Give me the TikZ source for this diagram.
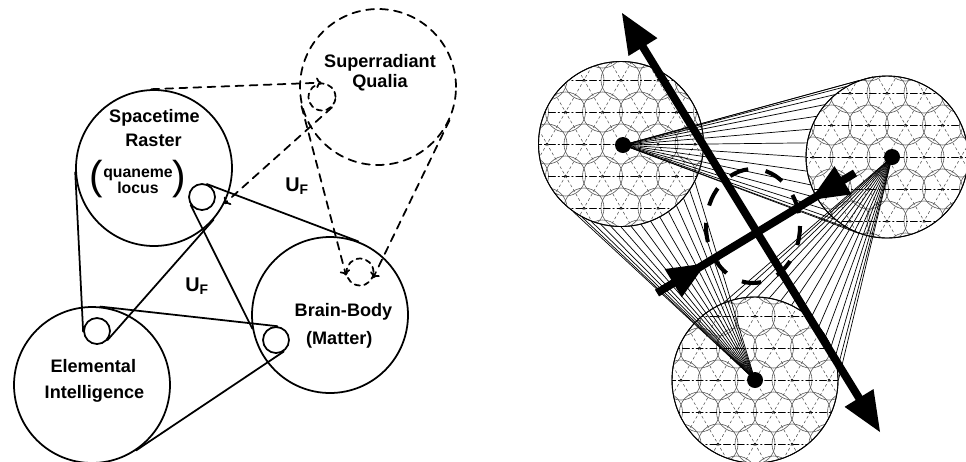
\documentclass[tikz,border=0pt]{standalone}
\usepackage{fontspec}
\setmainfont{Liberation Sans}
\usetikzlibrary{calc,arrows.meta}

\tikzset{
  ring/.style={circle, draw, line width=1pt, inner sep=0pt, minimum size=3.12cm},
  dring/.style={ring, dash pattern=on 4.5pt off 3.5pt},
  pulley/.style={circle, draw, line width=1pt, inner sep=0pt, minimum size=0.52cm},
  dpulley/.style={pulley, minimum size=0.54cm, dash pattern=on 3pt off 2.5pt},
  belt/.style={line width=1pt},
  dbelt/.style={line width=1pt, dash pattern=on 4.5pt off 3.5pt, -{To[length=3pt,width=6pt]}},
  lab/.style={font=\fontsize{10.3}{12}\selectfont\bfseries, anchor=base, inner sep=0pt},
  labs/.style={lab, font=\fontsize{9}{11}\selectfont\bfseries},
  paren/.style={font=\fontsize{23}{23}\selectfont, inner sep=0pt},
  uf/.style={font=\fontsize{11.3}{13}\selectfont\bfseries, anchor=base west, inner sep=0pt},
  hexring/.style={circle, draw, line width=0.5pt, inner sep=0pt, minimum size=#1},
  bigdot/.style={circle, fill, inner sep=0pt, minimum size=0.32cm},
  cellc/.style={black!65, line width=0.35pt},
  fan/.style={line width=0.4pt},
  shaft/.style={line width=4.5pt, line cap=butt},
}

% hexagonal raster inside a ring: node, radius
\newcommand\hexfill[2]{%
  \begin{scope}
    \clip (#1.center) circle (#2);
    \foreach \k in {-3,...,3}{
      \foreach \m in {-4,...,4}{
        \draw[cellc] ($(#1.center)+(37*\m+18.5*\k,32*\k)$) circle (20);
        \fill ($(#1.center)+(37*\m+18.5*\k,32*\k)$) circle (1.3);
      }
    }
    \foreach \k in {-3,...,3}{
      \draw[line width=0.35pt, dash pattern=on 4pt off 1.5pt on 0.8pt off 1.5pt]
        ($(#1.center)+(-100,32*\k)$) -- ++(200,0);
    }
    \foreach \m in {-6,...,6}{
      \draw[black!70, line width=0.3pt, dash pattern=on 1.5pt off 1.5pt]
        ($(#1.center)+(37*\m-111,-192)$) -- ++(222,384);
      \draw[black!70, line width=0.3pt, dash pattern=on 1.5pt off 1.5pt]
        ($(#1.center)+(37*\m+111,-192)$) -- ++(-222,384);
    }
  \end{scope}}

\begin{document}
\begin{tikzpicture}[x=0.02cm, y=-0.02cm, line cap=round]
\useasboundingbox (0,0) rectangle (966,461);

% rings
\node[ring] (st) at (154,168) {};
\node[ring] (ei) at (92,385) {};
\node[ring] (bb) at (330,315) {};
\node[dring] (sq) at (378,87) {};
% pulleys
\node[pulley] (p1) at (202,197) {};
\node[pulley] (p2) at (97,331) {};
\node[pulley] (p3) at (276,340) {};
\node[dpulley] (p4) at (322,97) {};
\node[dpulley] (p5) at (360,272) {};

% belts
\draw[belt] (st.183) -- (p2.183);
\draw[belt] (p2.-41) -- (st.-41);
\draw[belt] (ei.84) -- (p3.84);
\draw[belt] (p3.-56) -- (ei.-56);
\draw[belt] (p1.69) -- (bb.69);
\draw[belt] (p1.215) -- (bb.190);
\draw[dbelt] (sq.194) -- (p5.194);
\draw[dbelt] (sq.-25) -- (p5.-25);
\draw[dbelt] (st.92) -- (p4.92);
\draw[dbelt] (p4.-46) -- (st.-27);

% labels
\node[lab] (sq1) at (380,67.7) {Superradiant};
\node[lab] (sq2) at (380,87.3) {Qualia};
\node[lab] (st1) at (154.5,122.5) {Spacetime};
\node[lab] (st2) at (153.5,146.5) {Raster};
\node[labs] (st3) at (138,177) {quaneme};
\node[labs] (st4) at (138,193) {locus};
\node[paren] (lp) at (96.5,179) {(};
\node[paren] (rp) at (179,179) {)};
\node[lab] (bb1) at (343.5,316) {Brain-Body};
\node[lab] (bb2) at (339.3,344) {(Matter)};
\node[lab] (ei1) at (93.3,372.7) {Elemental};
\node[lab] (ei2) at (94.5,398.3) {Intelligence};
\node[uf] (u1) at (285,191.7) {U\textsubscript{F}};
\node[uf] (u2) at (185,291.7) {U\textsubscript{F}};

% right: rastered rings
\node[hexring=3.3cm] (ca) at (621,144) {};
\node[hexring=3.24cm] (cb) at (887,157) {};
\node[hexring=3.32cm] (cc) at (755,380) {};
\hexfill{ca}{82.5}
\hexfill{cb}{81}
\hexfill{cc}{83}
\draw[line width=0.5pt] (ca.center) circle (82.5) (cb.center) circle (81) (cc.center) circle (83);

% centres
\node[bigdot] (da) at (623,145) {};
\node[bigdot] (db) at (892,157) {};
\node[bigdot] (dc) at (755,380) {};

% fans
\foreach \t in {100,110,...,250} \draw[fan] (da.center) -- (cb.\t);
\foreach \t in {0,8,...,112} \draw[fan] (db.center) -- (cc.\t);
\foreach \t in {235,242,...,333} \draw[fan] (dc.center) -- (ca.\t);

% dashed loop
\draw[line width=2.3pt, line cap=butt, dash pattern=on 11pt off 10pt]
  (753,226) ellipse [x radius=47, y radius=57];

% long arrow
\coordinate (p1t) at (622,13);
\coordinate (p2t) at (880,432);
\path ($(p1t)!0.8cm!(p2t)$) coordinate (p1b);
\path ($(p2t)!0.8cm!(p1t)$) coordinate (p2b);
\draw[shaft] ($(p1t)!0.6cm!(p2t)$) -- ($(p2t)!0.6cm!(p1t)$);
\fill (p1t) -- ($(p1b)!0.34cm!90:(p2t)$) -- ($(p1b)!0.34cm!-90:(p2t)$) -- cycle;
\fill (p2t) -- ($(p2b)!0.34cm!90:(p1t)$) -- ($(p2b)!0.34cm!-90:(p1t)$) -- cycle;

% cross arrow
\coordinate (q1t) at (657,293);
\coordinate (q2t) at (855,173);
\path ($(q1t)!0.38cm!(q2t)$) coordinate (q1b);
\path ($(q2t)!0.28cm!(q1t)$) coordinate (q2b);
\draw[shaft] (q1t) -- (q2t);
\fill ($(q1t)!1.14cm!(q2t)$) -- ($(q1b)!0.33cm!90:(q2t)$) -- ($(q1b)!0.33cm!-90:(q2t)$) -- cycle;
\fill ($(q2t)!1.04cm!(q1t)$) -- ($(q2b)!0.33cm!90:(q1t)$) -- ($(q2b)!0.33cm!-90:(q1t)$) -- cycle;
\end{tikzpicture}
\end{document}
